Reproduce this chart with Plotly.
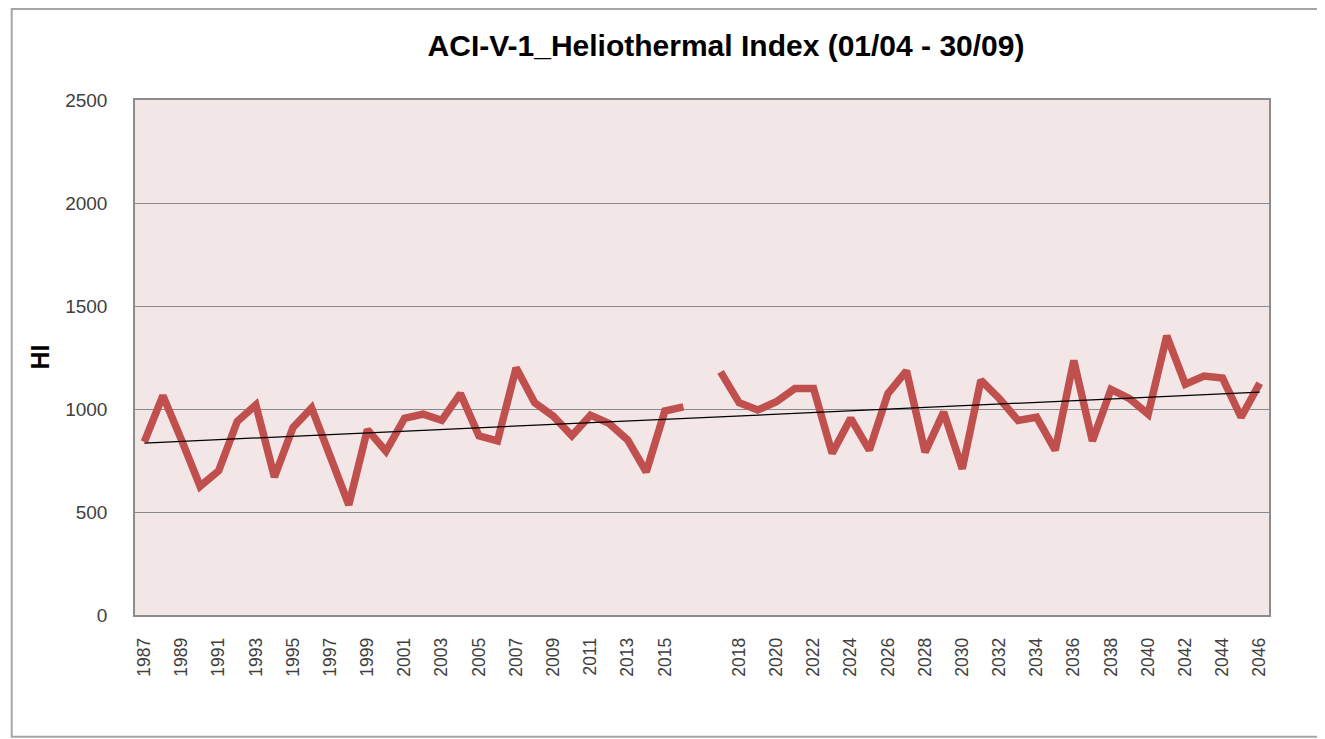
import numpy as np
import plotly.graph_objects as go

# Categories: observed 1987-2016, a blank separator, projected 2017-2046
years_hist = [str(y) for y in range(1987, 2017)]
years_proj = [str(y) for y in range(2017, 2047)]
categories = years_hist + [" "] + years_proj

hi_hist = [840, 1065, 850, 625, 700, 940, 1020, 670, 910, 1005,
           770, 535, 900, 795, 955, 975, 945, 1075, 870, 845,
           1200, 1030, 965, 870, 970, 930, 850, 695, 990, 1010]
hi_proj = [1180, 1030, 995, 1035, 1100, 1100, 785, 955, 800, 1075,
           1185, 790, 985, 710, 1140, 1050, 945, 960, 800, 1235,
           845, 1095, 1050, 975, 1355, 1120, 1160, 1150, 960, 1125]
hi_values = hi_hist + [None] + hi_proj

tick_labels = categories[::2]

title_text = "ACI-V-1_Heliothermal Index (01/04 - 30/09)"
y_title = "HI"

# linear trend (as Excel's trendline) over category positions
idx = np.arange(len(categories))
mask = np.array([v is not None for v in hi_values])
yv = np.array([v if v is not None else np.nan for v in hi_values], dtype=float)
coef = np.polyfit(idx[mask], yv[mask], 1)
trend = np.polyval(coef, idx)

# page body has an 8px margin: figure is sized/positioned to compensate
W, H = 1317, 731
L, R, T, B = 127, 1261, 92, 607
pw, ph = R - L, B - T

fig = go.Figure()
fig.add_trace(go.Scatter(
    x=categories, y=hi_values, mode="lines",
    line=dict(color="#C0504D", width=7.5), connectgaps=False,
    showlegend=False, hoverinfo="x+y"))
fig.add_trace(go.Scatter(
    x=categories, y=trend, mode="lines",
    line=dict(color="#000000", width=1.3),
    showlegend=False, hoverinfo="skip"))

fig.update_layout(
    width=W, height=H,
    margin=dict(l=L, r=W - R, t=T, b=H - B),
    paper_bgcolor="white",
    plot_bgcolor="#F3E6E6",
    font=dict(family="Liberation Sans, Arial, sans-serif", color="#404040"),
    title=dict(text="<b>" + title_text + "</b>",
               x=718 / W, xref="container", xanchor="center",
               y=1 - 37 / H, yref="container", yanchor="middle",
               font=dict(family="Liberation Sans, Arial, sans-serif",
                         size=30, color="#000000")),
    xaxis=dict(type="category", categoryorder="array", categoryarray=categories,
               range=[-0.5, len(categories) - 0.5],
               tickmode="array", tickvals=tick_labels, ticktext=tick_labels,
               tickangle=-90, tickfont=dict(size=17.5, color="#404040"),
               showgrid=False, showline=True, linecolor="#8C8C8C", linewidth=1.5,
               mirror=True, ticks="", ticklabelstandoff=14, zeroline=False),
    yaxis=dict(range=[0, 2500], tickvals=[0, 500, 1000, 1500, 2000, 2500],
               tickfont=dict(size=19, color="#404040"),
               showgrid=True, gridcolor="#8A8A8A", gridwidth=1,
               showline=True, linecolor="#8C8C8C", linewidth=1.5, mirror=True,
               ticks="", ticklabelstandoff=22, zeroline=False),
    annotations=[dict(text="<b>" + y_title + "</b>", textangle=-90,
                      xref="paper", yref="paper",
                      x=(31 - L) / pw, y=0.5, xanchor="center", yanchor="middle",
                      showarrow=False, font=dict(size=25, color="#000000"))],
    shapes=[dict(type="rect", xref="paper", yref="paper",
                 x0=(3.7 - L) / pw, x1=(1315 - L) / pw,
                 y0=(B - 728.7) / ph, y1=(B - 1) / ph,
                 line=dict(color="#A6A6A6", width=2), layer="below")],
)

fig.write_html("out.html")
